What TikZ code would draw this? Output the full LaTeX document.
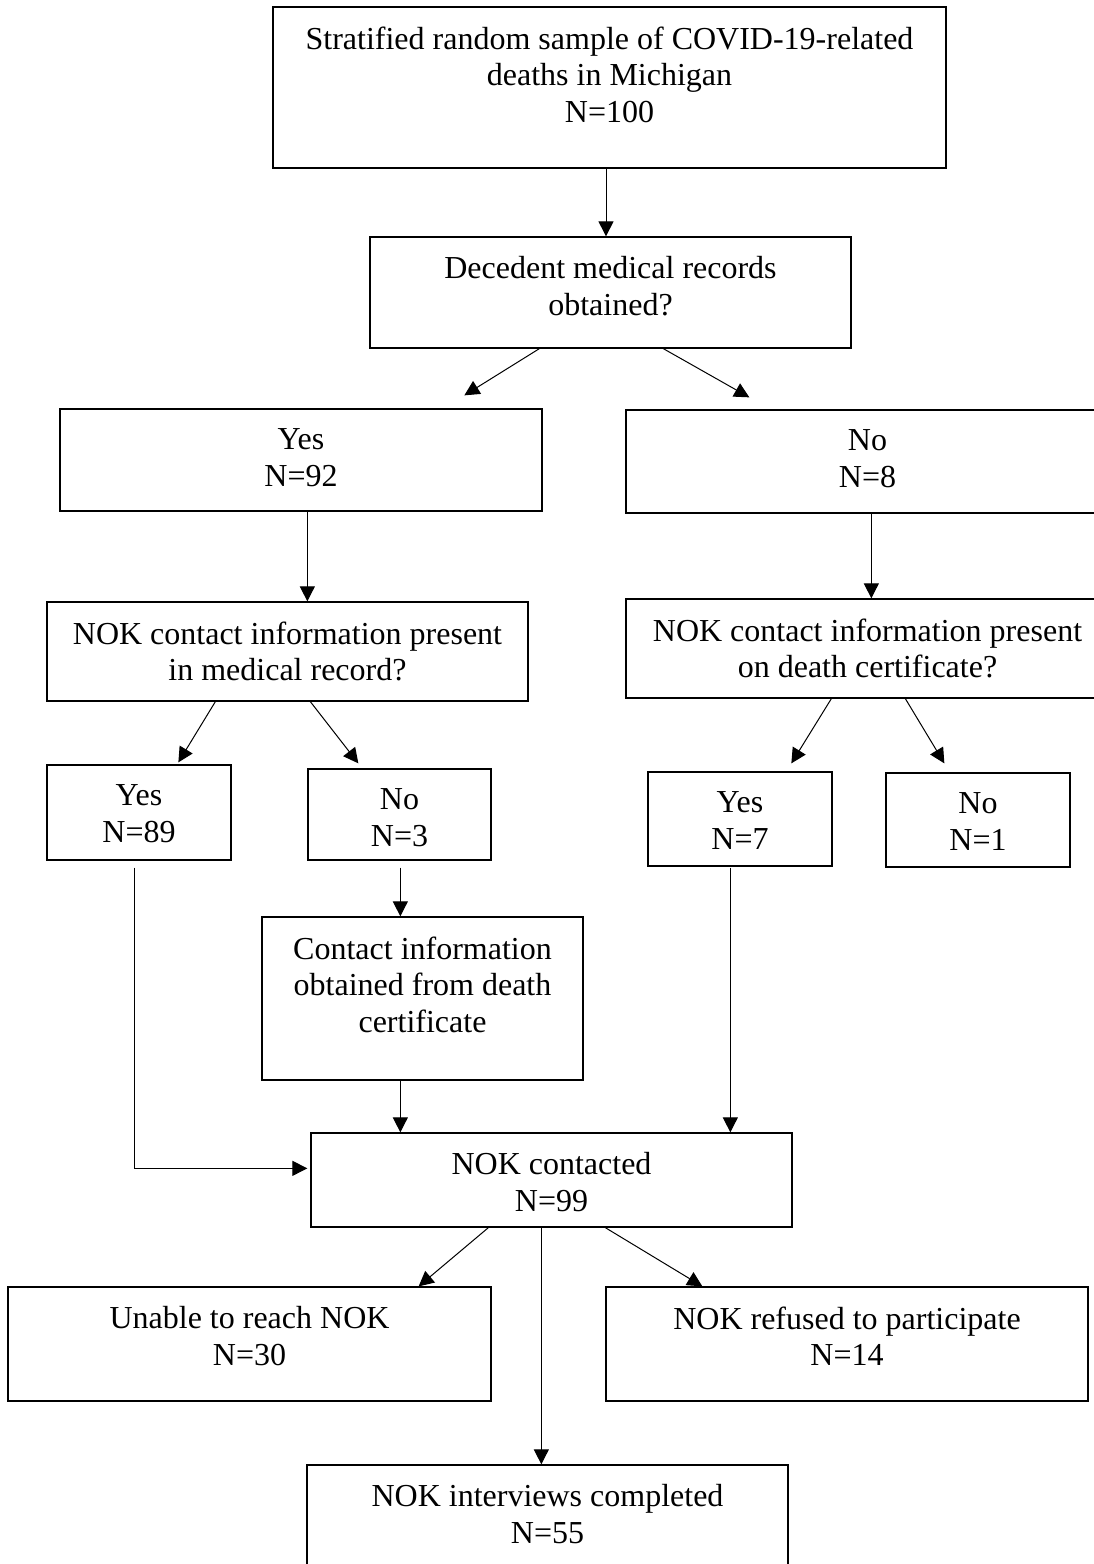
\documentclass[tikz,border=0pt]{standalone}
\usepackage{fontspec}
\setmainfont{Liberation Serif}
\usetikzlibrary{arrows.meta,calc}
\begin{document}
\begin{tikzpicture}[x=1pt,y=-1pt,
  box/.style={draw=black, line width=1.3pt, rectangle, inner sep=0pt},
  lbl/.style={anchor=north, yshift=-20pt, align=center, inner sep=0pt,
    font=\fontsize{32}{36.5}\selectfont},
  arr/.style={draw=black, line width=1pt, -{Triangle[length=15pt,width=15pt]}},
  ln/.style={draw=black, line width=1pt}]
\useasboundingbox (0,0) rectangle (1093,1564);
\fill[white] (0,0) rectangle (1093,1564);

\node[box, minimum width=673pt, minimum height=161pt,
  label={[lbl]north:{Stratified random sample of COVID-19-related\\deaths in Michigan\\N=100}}] (b1) at (609.5,87.5) {};
\node[box, minimum width=481pt, minimum height=111pt,
  label={[lbl]north:{Decedent medical records\\obtained?}}] (b2) at (610.5,292.5) {};
\node[box, minimum width=482pt, minimum height=102pt,
  label={[lbl]north:{Yes\\N=92}}] (y92) at (301,460) {};
\node[box, minimum width=483pt, minimum height=103pt,
  label={[lbl]north:{No\\N=8}}] (n8) at (867.5,461.5) {};
\node[box, minimum width=481pt, minimum height=99pt,
  label={[lbl]north:{NOK contact information present\\in medical record?}}] (med) at (287.5,651.5) {};
\node[box, minimum width=483pt, minimum height=99pt,
  label={[lbl]north:{NOK contact information present\\on death certificate?}}] (death) at (867.5,648.5) {};
\node[box, minimum width=184pt, minimum height=95pt,
  label={[lbl]north:{Yes\\N=89}}] (y89) at (139,812.5) {};
\node[box, minimum width=183pt, minimum height=91pt,
  label={[lbl]north:{No\\N=3}}] (n3) at (399.5,814.5) {};
\node[box, minimum width=184pt, minimum height=94pt,
  label={[lbl]north:{Yes\\N=7}}] (y7) at (740,819) {};
\node[box, minimum width=184pt, minimum height=94pt,
  label={[lbl]north:{No\\N=1}}] (n1) at (978,820) {};
\node[box, minimum width=321pt, minimum height=163pt,
  label={[lbl]north:{Contact information\\obtained from death\\certificate}}] (contact) at (422.5,998.5) {};
\node[box, minimum width=481pt, minimum height=94pt,
  label={[lbl]north:{NOK contacted\\N=99}}] (contacted) at (551.5,1180) {};
\node[box, minimum width=483pt, minimum height=114pt,
  label={[lbl]north:{Unable to reach NOK\\N=30}}] (unable) at (249.5,1344) {};
\node[box, minimum width=482pt, minimum height=114pt,
  label={[lbl]north:{NOK refused to participate\\N=14}}] (refused) at (847,1344) {};
\node[box, minimum width=481pt, minimum height=120pt,
  label={[lbl]north:{NOK interviews completed\\N=55}}] (completed) at (547.5,1525) {};

% connectors
\draw[arr] ($(b1.south)+(-3.5,0)$) coordinate (a1) -- (a1 |- b2.north);
\draw[arr] ($(b2.south west)+(170,0)$) -- ($(y92.north west)+(405,-13)$);
\draw[arr] ($(b2.south west)+(294,0)$) -- ($(n8.north west)+(124,-12)$);
\draw[arr] ($(y92.south west)+(248,0)$) coordinate (a4) -- (a4 |- med.north);
\draw[arr] ($(n8.south west)+(246,0)$) coordinate (a5) -- (a5 |- death.north);
\draw[arr] ($(med.south west)+(169,0)$) -- ($(y89.north west)+(132,-2)$);
\draw[arr] ($(med.south west)+(264,0)$) -- ($(n3.north west)+(51,-5)$);
\draw[arr] ($(death.south west)+(206,0)$) -- ($(y7.north west)+(144,-8)$);
\draw[arr] ($(death.south west)+(280,0)$) -- ($(n1.north west)+(59,-9)$);
\draw[arr] ($(y89.south west)+(88,7)$) |- ($(contacted.north west)+(-3,36)$);
\draw[arr] ($(n3.south west)+(93,7)$) coordinate (a11) -- (a11 |- contact.north);
\draw[arr] ($(contact.south west)+(139,0)$) coordinate (a12) -- (a12 |- contacted.north);
\draw[arr] ($(y7.south west)+(83,1)$) coordinate (a13) -- (a13 |- contacted.north);
\draw[arr] ($(contacted.south west)+(178,0)$) -- ($(unable.north east)+(-73,0)$);
\draw[arr] ($(contacted.south west)+(295,0)$) -- ($(refused.north west)+(97,0)$);
\draw[arr] ($(contacted.south west)+(231,0)$) coordinate (a16) -- (a16 |- completed.north);
\end{tikzpicture}
\end{document}
